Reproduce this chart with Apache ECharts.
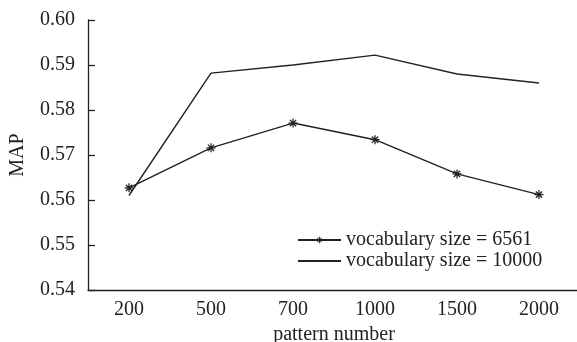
<!DOCTYPE html>
<html>
<head>
<meta charset="utf-8">
<script src="https://cdn.jsdelivr.net/npm/echarts@6/dist/echarts.min.js"></script>
<style>html,body{margin:0;padding:0;background:#fff;}#c{width:577px;height:342px;}</style>
</head>
<body>
<div id="c"></div>
<script>
const categories = ['200', '500', '700', '1000', '1500', '2000'];
const vocab6561 = [0.5627, 0.5716, 0.5771, 0.5734, 0.5658, 0.5612];
const vocab10000 = [0.5610, 0.5882, 0.5900, 0.5922, 0.5880, 0.5860];
const seriesNames = ['vocabulary size = 6561', 'vocabulary size = 10000'];
const yMin = 0.54, yMax = 0.60, yStep = 0.01;

const FONT = '"Liberation Serif", "Times New Roman", serif';
const INK = '#222';
const star = 'path://M-0.7,-5 L0.7,-5 L0.7,5 L-0.7,5 Z M-5,-0.7 L5,-0.7 L5,0.7 L-5,0.7 Z M-4,-3 L-3,-4 L4,3 L3,4 Z M3,-4 L4,-3 L-3,4 L-4,3 Z';

const chart = echarts.init(document.getElementById('c'), null, {renderer: 'canvas'});
chart.setOption({
  animation: false,
  backgroundColor: '#fff',
  textStyle: {fontFamily: FONT, color: INK},
  grid: {left: 88, top: 20, width: 492, height: 270, containLabel: false, outerBoundsMode: 'none'},
  legend: {
    orient: 'vertical', left: 297, top: 230, padding: 0,
    itemWidth: 43, itemHeight: 8, itemGap: 1,
    textStyle: {fontFamily: FONT, fontSize: 20, color: INK},
    data: [
      {name: seriesNames[0]},
      {name: seriesNames[1], itemStyle: {opacity: 0}}
    ]
  },
  xAxis: {
    type: 'category', data: categories, boundaryGap: true,
    name: 'pattern number', nameLocation: 'middle', nameGap: 32,
    nameTextStyle: {fontFamily: FONT, fontSize: 20, color: INK},
    axisLine: {lineStyle: {color: INK, width: 1.3}},
    axisTick: {inside: true, length: 6, lineStyle: {color: INK, width: 1.3}},
    axisLabel: {fontFamily: FONT, fontSize: 20, color: INK, margin: 10},
    splitLine: {show: false}
  },
  yAxis: {
    type: 'value', min: yMin, max: yMax, interval: yStep,
    name: 'MAP', nameLocation: 'middle', nameGap: 60,
    nameTextStyle: {fontFamily: FONT, fontSize: 20, color: INK},
    axisLine: {show: true, lineStyle: {color: INK, width: 1.3}},
    axisTick: {show: true, inside: true, length: 7, lineStyle: {color: INK, width: 1.3}},
    axisLabel: {fontFamily: FONT, fontSize: 20, color: INK, margin: 13, formatter: v => v.toFixed(2)},
    splitLine: {show: false}
  },
  series: [
    {
      name: seriesNames[0], type: 'line', data: vocab6561,
      symbol: star, symbolSize: 9, showSymbol: true,
      lineStyle: {color: INK, width: 1.4},
      itemStyle: {color: INK}
    },
    {
      name: seriesNames[1], type: 'line', data: vocab10000,
      symbol: 'none',
      lineStyle: {color: INK, width: 1.4},
      itemStyle: {color: INK}
    }
  ]
});
</script>
</body>
</html>
